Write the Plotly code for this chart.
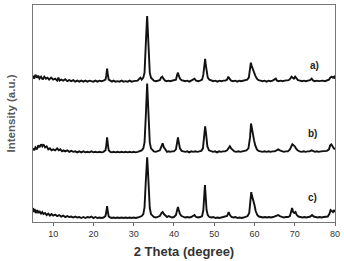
import plotly.graph_objects as go

# 2-theta / intensity pairs (stacked patterns, arbitrary units)
pattern_a = [
    (5, 147), (5.3, 144), (5.6, 148), (6, 145), (6.3, 147), (6.6, 144), (7, 146), (7.4, 143), (7.8, 146),
    (8.2, 144), (8.6, 145), (9, 143), (9.5, 145), (10, 143), (10.5, 144), (11, 142), (11.3, 145), (11.6, 142),
    (12, 143), (12.5, 142), (13, 143.5), (13.5, 141.5), (14, 142.5), (14.5, 141.5), (15, 142.5), (15.5, 141),
    (16, 142), (16.5, 141), (17, 142), (17.5, 141), (18, 142), (18.5, 141), (19, 142), (19.5, 141.5), (20, 141),
    (20.5, 142), (21, 141), (21.5, 142), (22, 141.5), (22.5, 142), (23, 143), (23.2, 147), (23.4, 154),
    (23.6, 148), (23.8, 143), (24.2, 142), (24.6, 141), (25, 142), (25.5, 141), (26, 141.5), (26.5, 141),
    (27, 142), (27.5, 141), (28, 141.5), (28.5, 141), (29, 142), (29.5, 141), (30, 141.5), (30.5, 142), (31, 142),
    (31.4, 144), (31.7, 145), (32, 143), (32.4, 145), (32.7, 150), (33, 170), (33.2, 195), (33.35, 207),
    (33.5, 190), (33.7, 168), (34, 150), (34.3, 145), (34.7, 143), (35, 142), (35.5, 141.5), (36, 142),
    (36.5, 142.5), (36.8, 145), (37.1, 146), (37.4, 144), (37.8, 142), (38.2, 141.5), (38.6, 142), (39, 141.5),
    (39.5, 142), (40, 142), (40.5, 143), (40.8, 148), (41, 150), (41.2, 147), (41.5, 144), (41.9, 142.5),
    (42.3, 142), (42.8, 141.5), (43.3, 142), (43.8, 141), (44.3, 142), (44.8, 143), (45.1, 144), (45.5, 142),
    (46, 141.5), (46.5, 142), (47, 143), (47.3, 148), (47.6, 160), (47.75, 164), (47.9, 158), (48.1, 150),
    (48.4, 145), (48.8, 143), (49.3, 142), (49.8, 141.5), (50.3, 142), (50.8, 141), (51.3, 142), (51.8, 141.5),
    (52.3, 142), (52.8, 142), (53.2, 143), (53.5, 146), (53.8, 144), (54.2, 142), (54.7, 141.5), (55.2, 142),
    (55.7, 141), (56.2, 142), (56.7, 141.5), (57.2, 142), (57.7, 142), (58.2, 143), (58.6, 145), (58.9, 152),
    (59.1, 160), (59.3, 157), (59.6, 153), (59.9, 150), (60.2, 147), (60.6, 144), (61, 142.5), (61.5, 142),
    (62, 141.5), (62.5, 142), (63, 141), (63.5, 142), (64, 141.5), (64.5, 142), (65, 143), (65.3, 144),
    (65.6, 142), (66, 141.5), (66.5, 142), (67, 141.5), (67.5, 142), (68, 142), (68.5, 142.5), (68.9, 144),
    (69.2, 146), (69.5, 145), (69.8, 144), (70.1, 146), (70.4, 144), (70.8, 142.5), (71.3, 142), (71.8, 141.5),
    (72.3, 142), (72.8, 141.5), (73.3, 142), (73.8, 142.5), (74.2, 144), (74.6, 142), (75, 141.5), (75.5, 142),
    (76, 141.5), (76.5, 142), (77, 142), (77.5, 141.5), (78, 142), (78.5, 143), (78.8, 145), (79.2, 146),
    (79.5, 145), (79.8, 146), (80, 144),
]

pattern_b = [
    (5, 74), (5.3, 72), (5.6, 75), (6, 73), (6.3, 77), (6.6, 75), (7, 78), (7.3, 76), (7.6, 78), (8, 75),
    (8.4, 76), (8.8, 73), (9.2, 74), (9.6, 72), (10, 73), (10.5, 72), (11, 74), (11.4, 72), (11.8, 73),
    (12.2, 71), (12.6, 72), (13, 71), (13.5, 72), (14, 70.5), (14.5, 71.5), (15, 70.5), (15.5, 71), (16, 70),
    (16.5, 71), (17, 70), (17.5, 71), (18, 70), (18.5, 70.5), (19, 70), (19.5, 71), (20, 70), (20.5, 70.5),
    (21, 70), (21.5, 70.5), (22, 70), (22.5, 70.5), (23, 72), (23.2, 77), (23.4, 85), (23.6, 78), (23.8, 72),
    (24.2, 70.5), (24.6, 70), (25, 70.5), (25.5, 70), (26, 70.5), (26.5, 70), (27, 70.5), (27.5, 70),
    (28, 70.5), (28.5, 70), (29, 70.5), (29.5, 70), (30, 70.5), (30.5, 70), (31, 70.5), (31.5, 71), (32, 72),
    (32.4, 74), (32.7, 80), (33, 105), (33.2, 130), (33.35, 139), (33.5, 125), (33.7, 100), (34, 80),
    (34.3, 74), (34.7, 72), (35, 71), (35.5, 70.5), (36, 71), (36.5, 72), (36.9, 76), (37.2, 79), (37.5, 75),
    (37.9, 72), (38.3, 70.5), (38.7, 71), (39.1, 70.5), (39.5, 71), (40, 71), (40.5, 73), (40.8, 80), (41, 85),
    (41.2, 80), (41.5, 74), (41.9, 71.5), (42.3, 71), (42.8, 70.5), (43.3, 71), (43.8, 70), (44.3, 71),
    (44.8, 70.5), (45.3, 71), (45.8, 70.5), (46.3, 71), (46.8, 71.5), (47.2, 74), (47.5, 85), (47.75, 96),
    (48, 88), (48.3, 76), (48.7, 72), (49.2, 71), (49.7, 70.5), (50.2, 71), (50.7, 70), (51.2, 71),
    (51.7, 70.5), (52.2, 71), (52.7, 71), (53.2, 72), (53.6, 74), (53.9, 76), (54.2, 74), (54.6, 72), (55, 71),
    (55.5, 70.5), (56, 71), (56.5, 70.5), (57, 71), (57.5, 71), (58, 72), (58.5, 74), (58.9, 85), (59.15, 99),
    (59.35, 93), (59.6, 86), (59.9, 82), (60.2, 77), (60.6, 73), (61, 71.5), (61.5, 71), (62, 70.5), (62.5, 71),
    (63, 70.5), (63.5, 71), (64, 70.5), (64.5, 71), (65, 71), (65.5, 72), (65.9, 73), (66.3, 72), (66.8, 71),
    (67.3, 70.5), (67.8, 71), (68.3, 71), (68.8, 73), (69.1, 76), (69.4, 78), (69.7, 77), (70, 76), (70.3, 74),
    (70.7, 72), (71.2, 71), (71.7, 70.5), (72.2, 71), (72.7, 70.5), (73.2, 71), (73.7, 71), (74.2, 72),
    (74.6, 71), (75, 70.5), (75.5, 71), (76, 70.5), (76.5, 71), (77, 71), (77.5, 71), (78, 71.5), (78.5, 73),
    (78.8, 77), (79.1, 78), (79.4, 75), (79.7, 74), (80, 73),
]

pattern_c = [
    (5, 14), (5.2, 10), (5.4, 13), (5.7, 9), (6, 12), (6.3, 9), (6.6, 11), (7, 8), (7.3, 10), (7.6, 8), (8, 9),
    (8.4, 7), (8.8, 8.5), (9.2, 6.5), (9.6, 8), (10, 6.5), (10.5, 7.5), (11, 6), (11.5, 7), (12, 5.5),
    (12.5, 6.5), (13, 5), (13.5, 6), (14, 5), (14.5, 5.5), (15, 4.5), (15.5, 5.5), (16, 4.5), (16.5, 5),
    (17, 4), (17.5, 5), (18, 4), (18.5, 5), (19, 4.5), (19.5, 5.5), (20, 4), (20.5, 5), (21, 4), (21.5, 4.5),
    (22, 4), (22.5, 4.5), (23, 6), (23.2, 10), (23.4, 16), (23.6, 10), (23.8, 5.5), (24.2, 4.5), (24.6, 4),
    (25, 4.5), (25.5, 4), (26, 4.5), (26.5, 4), (27, 4.5), (27.5, 4), (28, 4.5), (28.5, 4), (29, 4.5), (29.5, 4),
    (30, 4.5), (30.5, 4), (31, 4.5), (31.5, 5), (32, 6), (32.4, 8), (32.7, 15), (33, 40), (33.2, 58),
    (33.35, 65), (33.5, 55), (33.7, 35), (34, 14), (34.3, 8), (34.7, 6), (35, 5), (35.5, 4.5), (36, 5),
    (36.5, 6), (36.9, 9), (37.2, 10), (37.5, 8), (37.9, 6), (38.3, 5), (38.7, 6), (39.1, 5), (39.5, 4.5),
    (40, 5), (40.5, 7), (40.8, 12), (41, 15), (41.2, 12), (41.5, 8), (41.9, 6), (42.3, 5), (42.8, 4.5),
    (43.3, 5), (43.8, 4.5), (44.3, 5), (44.8, 6), (45.1, 7), (45.5, 5), (46, 4.5), (46.5, 5), (47, 6),
    (47.3, 12), (47.55, 32), (47.7, 37), (47.85, 28), (48.1, 12), (48.4, 7), (48.8, 5), (49.3, 4.5), (49.8, 5),
    (50.3, 4), (50.8, 4.5), (51.3, 4), (51.8, 4.5), (52.3, 4.5), (52.8, 5), (53.2, 6), (53.6, 10), (53.9, 7),
    (54.3, 5), (54.8, 4.5), (55.3, 5), (55.8, 4), (56.3, 4.5), (56.8, 4), (57.3, 4.5), (57.8, 5), (58.3, 6),
    (58.7, 9), (59, 20), (59.2, 30), (59.4, 26), (59.7, 22), (60, 17), (60.3, 11), (60.7, 7), (61.1, 5.5),
    (61.6, 5), (62.1, 4.5), (62.6, 5), (63.1, 4.5), (63.6, 5), (64.1, 4.5), (64.6, 5), (65.1, 5.5), (65.5, 6),
    (65.9, 7), (66.3, 6), (66.8, 5), (67.3, 4.5), (67.8, 5), (68.3, 5), (68.8, 6), (69.1, 10), (69.35, 14),
    (69.6, 10), (69.9, 9), (70.2, 10), (70.5, 7), (70.9, 5.5), (71.4, 5), (71.9, 4.5), (72.4, 5), (72.9, 4.5),
    (73.4, 5), (73.9, 5.5), (74.3, 7), (74.7, 5.5), (75.2, 5), (75.7, 4.5), (76.2, 5), (76.7, 4.5), (77.2, 5),
    (77.7, 5), (78.2, 5.5), (78.6, 8), (78.9, 12), (79.2, 11), (79.5, 10), (79.8, 12), (80, 10),
]

series_names = ["a)", "b)", "c)"]
series_data = [pattern_a, pattern_b, pattern_c]
label_x = [74.8, 74.3, 74.5]
label_y = [157, 89, 25]
x_ticks = [10, 20, 30, 40, 50, 60, 70, 80]

fig = go.Figure()
for name, pts in zip(series_names, series_data):
    fig.add_trace(go.Scatter(
        x=[p[0] for p in pts], y=[p[1] for p in pts], mode="lines", name=name,
        line=dict(color="#111111", width=1.9), showlegend=False,
    ))

for name, lx, ly in zip(series_names, label_x, label_y):
    fig.add_annotation(x=lx, y=ly, text="<b>" + name + "</b>", showarrow=False,
                       font=dict(family="Arial, Liberation Sans", size=10, color="#222222"))

fig.update_layout(
    width=344, height=261,
    margin=dict(l=33, r=7, t=4, b=39),
    paper_bgcolor="white", plot_bgcolor="white",
    font=dict(family="Arial, Liberation Sans", color="#333333"),
)
fig.update_xaxes(
    range=[5, 80], tickvals=x_ticks, ticktext=[str(v) for v in x_ticks],
    ticks="outside", ticklen=3, tickwidth=1, tickcolor="#666666",
    showline=True, linecolor="#777777", linewidth=1, mirror=True,
    showgrid=False, zeroline=False,
    tickfont=dict(family="Arial, Liberation Sans", size=9, color="#333333"),
    title=dict(text="<b>2 Theta (degree)</b>", standoff=9,
               font=dict(family="Arial, Liberation Sans", size=13, color="#333333")),
)
fig.update_yaxes(
    range=[0, 218], showticklabels=False, ticks="",
    showline=True, linecolor="#777777", linewidth=1, mirror=True,
    showgrid=False, zeroline=False,
    title=dict(text="<b>Intensity (a.u.)</b>", standoff=13,
               font=dict(family="Arial, Liberation Sans", size=11.5, color="#5a5a5a")),
)

fig.write_html("out.html")
